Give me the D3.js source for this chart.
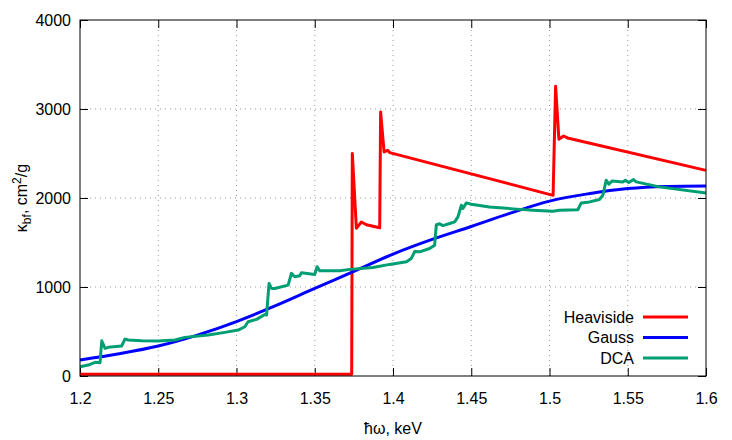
<!DOCTYPE html>
<html>
<head>
<meta charset="utf-8">
<script src="https://cdn.jsdelivr.net/npm/d3@7"></script>
<style>
  body { margin: 0; background: #fff; }
  text { font-family: "Liberation Sans", Arial, sans-serif; fill: #000; }
</style>
</head>
<body>
<div id="chart"></div>
<script>
var svgWidth = 732;
var svgHeight = 440;

var margin = { top: 20, right: 26, bottom: 64, left: 80 };
var width = svgWidth - margin.left - margin.right;
var height = svgHeight - margin.top - margin.bottom;

// tick values
var xTicks = [1.2, 1.25, 1.3, 1.35, 1.4, 1.45, 1.5, 1.55, 1.6];
var yTicks = [0, 1000, 2000, 3000, 4000];

// Heaviside series [energy keV, kappa]
var heaviside = [
  [1.2, 20], [1.3736, 20], [1.3740, 2500], [1.3766, 1660], [1.3798, 1730],
  [1.3830, 1700], [1.3915, 1665], [1.3921, 2966], [1.3943, 2517],
  [1.3966, 2536], [1.3979, 2510], [1.5023, 2030], [1.5039, 3255],
  [1.5060, 2660], [1.5090, 2697], [1.5115, 2675], [1.6, 2310]
];

// Gauss series
var gauss = [
  [1.2, 180], [1.225, 250], [1.25, 337], [1.275, 460], [1.3, 612],
  [1.325, 790], [1.35, 984], [1.375, 1175], [1.4, 1370], [1.425, 1535],
  [1.45, 1680], [1.475, 1830], [1.5, 1965], [1.525, 2048], [1.55, 2106],
  [1.575, 2130], [1.6, 2136]
];

// DCA series
var dca = [
  [1.2000, 105], [1.2053, 123], [1.2096, 154], [1.2128, 150], [1.2139, 396],
  [1.2160, 311], [1.2181, 322], [1.2266, 337], [1.2287, 415], [1.2308, 404],
  [1.2394, 396], [1.2500, 393], [1.2606, 404], [1.2670, 434], [1.2819, 460],
  [1.2926, 490], [1.3011, 516], [1.3053, 553], [1.3074, 610], [1.3128, 636],
  [1.3181, 692], [1.3192, 685], [1.3208, 1040], [1.3224, 984], [1.3245, 984],
  [1.3330, 1021], [1.3351, 1153], [1.3372, 1115], [1.3404, 1126], [1.3415, 1160],
  [1.3500, 1141], [1.3515, 1227], [1.3532, 1182], [1.3660, 1182], [1.3724, 1198],
  [1.3872, 1220], [1.3979, 1254], [1.4086, 1283], [1.4117, 1321], [1.4139, 1400],
  [1.4170, 1395], [1.4234, 1433], [1.4266, 1470], [1.4277, 1700], [1.4298, 1710],
  [1.4319, 1690], [1.4362, 1713], [1.4394, 1732], [1.4415, 1788], [1.4437, 1919],
  [1.4447, 1882], [1.4469, 1945], [1.4500, 1930], [1.4617, 1900], [1.4788, 1875],
  [1.4894, 1863], [1.5021, 1850], [1.5064, 1863], [1.5181, 1868], [1.5203, 1945],
  [1.5256, 1956], [1.5319, 1983], [1.5341, 2031], [1.5362, 2200], [1.5379, 2155],
  [1.5401, 2192], [1.5468, 2181], [1.5485, 2200], [1.5507, 2174], [1.5537, 2207],
  [1.5554, 2181], [1.5702, 2125], [1.6000, 2057]
];

var seriesNames = ["Heaviside", "Gauss", "DCA"];
var seriesColors = ["#ff0000", "#0000ff", "#009e73"];
var seriesData = [heaviside, gauss, dca];

var svg = d3.select("#chart")
  .append("svg")
  .attr("width", svgWidth)
  .attr("height", svgHeight);

var chartGroup = svg.append("g")
  .attr("transform", `translate(${margin.left}, ${margin.top})`);

var xScale = d3.scaleLinear().domain([1.2, 1.6]).range([0, width]);
var yScale = d3.scaleLinear().domain([0, 4000]).range([height, 0]);

// dotted grid
chartGroup.selectAll(".gridx")
  .data(xTicks.slice(1, -1))
  .enter()
  .append("line")
  .attr("x1", d => xScale(d)).attr("x2", d => xScale(d))
  .attr("y1", 0).attr("y2", height)
  .attr("stroke", "#999")
  .attr("stroke-width", 1)
  .attr("stroke-dasharray", "1,4");

chartGroup.selectAll(".gridy")
  .data(yTicks.slice(1, -1))
  .enter()
  .append("line")
  .attr("x1", 0).attr("x2", width)
  .attr("y1", d => yScale(d)).attr("y2", d => yScale(d))
  .attr("stroke", "#999")
  .attr("stroke-width", 1)
  .attr("stroke-dasharray", "1,4");

// axes with inward ticks
var bottomAxis = d3.axisBottom(xScale).tickValues(xTicks).tickSize(-8).tickPadding(17)
  .tickFormat(d3.format("~g"));
var leftAxis = d3.axisLeft(yScale).tickValues(yTicks).tickSize(-8).tickPadding(9)
  .tickFormat(d3.format("d"));
var topAxis = d3.axisTop(xScale).tickValues(xTicks).tickSize(-8).tickFormat("");
var rightAxis = d3.axisRight(yScale).tickValues(yTicks).tickSize(-8).tickFormat("");

function styleAxis(g) {
  g.select(".domain").remove();
  g.selectAll("line").attr("stroke", "#000").attr("stroke-width", 1);
  g.selectAll("text")
    .style("font-family", '"Liberation Sans", Arial, sans-serif')
    .style("font-size", "16px")
    .attr("fill", "#000");
}

chartGroup.append("g").attr("transform", `translate(0, ${height})`).call(bottomAxis).call(styleAxis);
chartGroup.append("g").call(leftAxis).call(styleAxis);
chartGroup.append("g").call(topAxis).call(styleAxis);
chartGroup.append("g").attr("transform", `translate(${width}, 0)`).call(rightAxis).call(styleAxis);

// lines
var line = d3.line()
  .x(d => xScale(d[0]))
  .y(d => yScale(d[1]));

var smoothLine = d3.line()
  .x(d => xScale(d[0]))
  .y(d => yScale(d[1]))
  .curve(d3.curveMonotoneX);

seriesData.forEach(function(data, i) {
  chartGroup.append("path")
    .datum(data)
    .attr("fill", "none")
    .attr("stroke", seriesColors[i])
    .attr("stroke-width", 3)
    .attr("stroke-linejoin", "round")
    .attr("d", i === 1 ? smoothLine : line);
});

// frame
chartGroup.append("rect")
  .attr("x", 0).attr("y", 0)
  .attr("width", width).attr("height", height)
  .attr("fill", "none")
  .attr("stroke", "#000")
  .attr("stroke-width", 1);

// legend
var legend = chartGroup.selectAll(".legend")
  .data(seriesNames)
  .enter()
  .append("g")
  .attr("transform", (d, i) => `translate(0, ${297 + i * 20.5})`);

legend.append("text")
  .attr("x", 554)
  .attr("dy", "0.35em")
  .attr("text-anchor", "end")
  .style("font-size", "16px")
  .text(d => d);

legend.append("line")
  .attr("x1", 563).attr("x2", 608)
  .attr("stroke", (d, i) => seriesColors[i])
  .attr("stroke-width", 3);

// axis labels
chartGroup.append("text")
  .attr("x", width / 2)
  .attr("y", height + 58)
  .attr("text-anchor", "middle")
  .style("font-size", "16px")
  .text("ħω, keV");

var ylab = svg.append("text")
  .attr("transform", `translate(27, ${margin.top + height / 2}) rotate(-90)`)
  .attr("text-anchor", "middle")
  .style("font-size", "16px");
ylab.append("tspan").text("κ");
ylab.append("tspan").attr("dy", 4).style("font-size", "12px").text("bf");
ylab.append("tspan").attr("dy", -4).text(", cm");
ylab.append("tspan").attr("dy", -6).style("font-size", "12px").text("2");
ylab.append("tspan").attr("dy", 6).text("/g");
</script>
</body>
</html>
